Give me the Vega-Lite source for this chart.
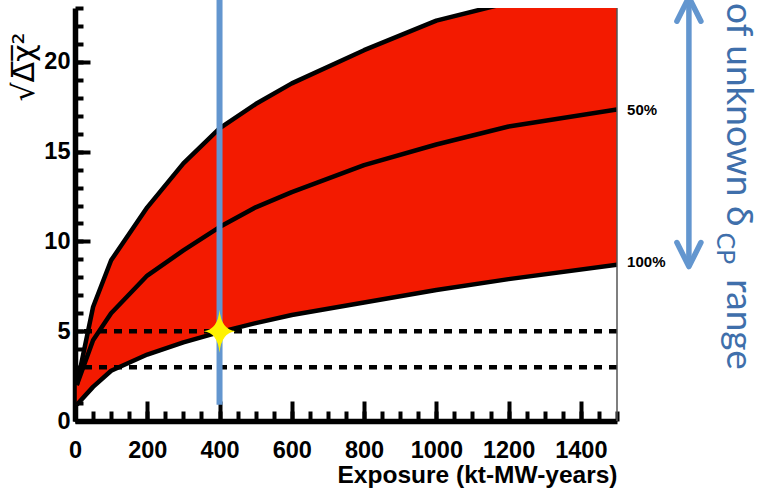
{
  "$schema": "https://vega.github.io/schema/vega-lite/v6.json",
  "width": 542,
  "height": 413,
  "autosize": {"type": "none"},
  "padding": {"left": 75, "top": 8, "right": 147, "bottom": 72},
  "background": "white",
  "config": {
    "view": {"stroke": null},
    "axis": {
      "grid": false,
      "labelFont": "Liberation Sans",
      "titleFont": "Liberation Sans",
      "domainColor": "black",
      "tickColor": "black",
      "labelColor": "black",
      "titleColor": "black"
    }
  },
  "datasets": {
    "curves": [
      {"exposure": 5, "upper": 2.0, "middle": 2.0, "lower": 0.9},
      {"exposure": 50, "upper": 6.35, "middle": 4.5, "lower": 1.9},
      {"exposure": 100, "upper": 8.95, "middle": 6.0, "lower": 2.8},
      {"exposure": 200, "upper": 11.9, "middle": 8.1, "lower": 3.7},
      {"exposure": 300, "upper": 14.35, "middle": 9.5, "lower": 4.38},
      {"exposure": 400, "upper": 16.3, "middle": 10.8, "lower": 4.95},
      {"exposure": 500, "upper": 17.65, "middle": 11.9, "lower": 5.45},
      {"exposure": 600, "upper": 18.8, "middle": 12.75, "lower": 5.9},
      {"exposure": 800, "upper": 20.65, "middle": 14.25, "lower": 6.6},
      {"exposure": 1000, "upper": 22.3, "middle": 15.4, "lower": 7.3},
      {"exposure": 1200, "upper": 23.3, "middle": 16.4, "lower": 7.9},
      {"exposure": 1500, "upper": 24.6, "middle": 17.35, "lower": 8.7}
    ]
  },
  "resolve": {"axis": {"x": "independent", "y": "independent"}},
  "layer": [
    {
      "description": "Band between the 0% and 100% curves, carries the labelled axes",
      "data": {"name": "curves"},
      "mark": {"type": "area", "color": "#f31a00", "clip": true},
      "encoding": {
        "x": {
          "field": "exposure", "type": "quantitative",
          "scale": {"domain": [0, 1500], "nice": false, "zero": false},
          "axis": {
            "orient": "bottom",
            "values": [0, 200, 400, 600, 800, 1000, 1200, 1400],
            "format": "d",
            "tickSize": -20, "tickWidth": 4, "domainWidth": 5.5,
            "labelFontSize": 23.5, "labelFontWeight": "bold", "labelPadding": 37,
            "labelFlush": false, "labelOverlap": false,
            "title": "Exposure (kt-MW-years)",
            "titleFontSize": 24.5, "titleFontWeight": "bold",
            "titleAnchor": "end", "titlePadding": 2
          }
        },
        "y": {
          "field": "lower", "type": "quantitative",
          "scale": {"domain": [0, 23], "nice": false, "zero": false},
          "axis": {
            "orient": "left",
            "values": [0, 5, 10, 15, 20],
            "tickSize": -15, "tickWidth": 4, "domainWidth": 5.5,
            "labelFontSize": 23.5, "labelFontWeight": "bold", "labelPadding": 20,
            "labelFlush": false, "labelOverlap": false,
            "title": "√Δ̅χ̅²",
            "titleFont": "DejaVu Sans", "titleFontSize": 30, "titleFontWeight": "normal",
            "titleAngle": -90, "titleAlign": "left", "titleBaseline": "middle",
            "titleX": -51, "titleY": 93
          }
        },
        "y2": {"field": "upper"}
      }
    },
    {
      "description": "Reference levels at 5 and 3 sigma",
      "data": {"values": [{"level": 5}, {"level": 3}]},
      "mark": {"type": "rule", "color": "black", "strokeWidth": 4.5, "strokeDash": [8, 7]},
      "encoding": {
        "y": {"field": "level", "type": "quantitative", "scale": {"domain": [0, 23], "nice": false, "zero": false}, "axis": null}
      }
    },
    {
      "description": "Sensitivity curves, carries the minor-tick axes",
      "data": {"name": "curves"},
      "transform": [{"fold": ["upper", "middle", "lower"], "as": ["curve", "v"]}],
      "mark": {"type": "line", "color": "black", "strokeWidth": 4.5, "strokeJoin": "round", "clip": true},
      "encoding": {
        "x": {
          "field": "exposure", "type": "quantitative",
          "scale": {"domain": [0, 1500], "nice": false, "zero": false},
          "axis": {
            "orient": "bottom",
            "values": [0, 50, 100, 150, 200, 250, 300, 350, 400, 450, 500, 550, 600, 650, 700, 750, 800, 850, 900, 950, 1000, 1050, 1100, 1150, 1200, 1250, 1300, 1350, 1400, 1450, 1500],
            "tickSize": -10, "tickWidth": 4, "labels": false, "domain": false, "title": null
          }
        },
        "y": {
          "field": "v", "type": "quantitative",
          "scale": {"domain": [0, 23], "nice": false, "zero": false},
          "axis": {
            "orient": "left",
            "values": [0, 1, 2, 3, 4, 5, 6, 7, 8, 9, 10, 11, 12, 13, 14, 15, 16, 17, 18, 19, 20, 21, 22, 23],
            "tickSize": -8, "tickWidth": 4, "labels": false, "domain": false, "title": null
          }
        },
        "detail": {"field": "curve"}
      }
    },
    {
      "description": "Right frame edge",
      "data": {"values": [{"exposure": 1500, "from": 0, "to": 23}]},
      "mark": {"type": "rule", "color": "#555555", "strokeWidth": 1.5},
      "encoding": {
        "x": {"field": "exposure", "type": "quantitative", "scale": {"domain": [0, 1500], "nice": false, "zero": false}, "axis": null},
        "y": {"field": "from", "type": "quantitative", "scale": {"domain": [0, 23], "nice": false, "zero": false}, "axis": null},
        "y2": {"field": "to"}
      }
    },
    {
      "description": "Exposure marker at 400 kt-MW-years",
      "data": {"values": [{"exposure": 400, "from": 0.9, "to": 23.6}]},
      "mark": {"type": "rule", "color": "#6396cf", "strokeWidth": 6, "clip": false},
      "encoding": {
        "x": {"field": "exposure", "type": "quantitative", "scale": {"domain": [0, 1500], "nice": false, "zero": false}, "axis": null},
        "y": {"field": "from", "type": "quantitative", "scale": {"domain": [0, 23], "nice": false, "zero": false}, "axis": null},
        "y2": {"field": "to"}
      }
    },
    {
      "description": "Star where the 100% curve crosses 5 sigma",
      "data": {"values": [{"exposure": 400, "sigma": 5}]},
      "mark": {
        "type": "point", "filled": true, "opacity": 1, "color": "#fff200", "size": 1849,
        "shape": "M0,-1Q0.08,-0.08 0.74,0Q0.08,0.08 0,1Q-0.08,0.08 -0.74,0Q-0.08,-0.08 0,-1Z"
      },
      "encoding": {
        "x": {"field": "exposure", "type": "quantitative", "scale": {"domain": [0, 1500], "nice": false, "zero": false}, "axis": null},
        "y": {"field": "sigma", "type": "quantitative", "scale": {"domain": [0, 23], "nice": false, "zero": false}, "axis": null}
      }
    },
    {
      "description": "Curve labels",
      "data": {"values": [{"exposure": 1528, "sigma": 17.32, "label": "50%"}, {"exposure": 1528, "sigma": 8.85, "label": "100%"}]},
      "mark": {"type": "text", "font": "Liberation Sans", "fontWeight": "bold", "fontSize": 15, "align": "left", "baseline": "middle", "color": "black"},
      "encoding": {
        "x": {"field": "exposure", "type": "quantitative", "scale": {"domain": [0, 1500], "nice": false, "zero": false}, "axis": null},
        "y": {"field": "sigma", "type": "quantitative", "scale": {"domain": [0, 23], "nice": false, "zero": false}, "axis": null},
        "text": {"field": "label"}
      }
    },
    {
      "description": "Range arrow shaft",
      "data": {"values": [{"exposure": 1699, "from": 8.6, "to": 23.6}]},
      "mark": {"type": "rule", "color": "#6396cf", "strokeWidth": 5.5, "clip": false},
      "encoding": {
        "x": {"field": "exposure", "type": "quantitative", "scale": {"domain": [0, 1500], "nice": false, "zero": false}, "axis": null},
        "y": {"field": "from", "type": "quantitative", "scale": {"domain": [0, 23], "nice": false, "zero": false}, "axis": null},
        "y2": {"field": "to"}
      }
    },
    {
      "description": "Lower arrow head",
      "data": {"values": [{"exposure": 1699, "sigma": 8.6}]},
      "mark": {"type": "point", "filled": false, "opacity": 1, "color": "#6396cf", "strokeWidth": 5.5, "strokeCap": "round", "strokeJoin": "round", "size": 576, "shape": "M-1,-2L0,0L1,-2"},
      "encoding": {
        "x": {"field": "exposure", "type": "quantitative", "scale": {"domain": [0, 1500], "nice": false, "zero": false}, "axis": null},
        "y": {"field": "sigma", "type": "quantitative", "scale": {"domain": [0, 23], "nice": false, "zero": false}, "axis": null}
      }
    },
    {
      "description": "Upper arrow head",
      "data": {"values": [{"exposure": 1699, "sigma": 23.6}]},
      "mark": {"type": "point", "filled": false, "opacity": 1, "color": "#6396cf", "strokeWidth": 5.5, "strokeCap": "round", "strokeJoin": "round", "size": 576, "shape": "M-1,2L0,0L1,2"},
      "encoding": {
        "x": {"field": "exposure", "type": "quantitative", "scale": {"domain": [0, 1500], "nice": false, "zero": false}, "axis": null},
        "y": {"field": "sigma", "type": "quantitative", "scale": {"domain": [0, 23], "nice": false, "zero": false}, "axis": null}
      }
    },
    {
      "description": "Vertical annotation text",
      "data": {"values": [{"exposure": 1804, "sigma": 23.28, "note": "of unknown δ"}, {"exposure": 1804, "sigma": 7.9, "note": "range"}]},
      "mark": {"type": "text", "font": "Lato", "fontSize": 37, "angle": 90, "align": "left", "baseline": "alphabetic", "color": "#3f6fab"},
      "encoding": {
        "x": {"field": "exposure", "type": "quantitative", "scale": {"domain": [0, 1500], "nice": false, "zero": false}, "axis": null},
        "y": {"field": "sigma", "type": "quantitative", "scale": {"domain": [0, 23], "nice": false, "zero": false}, "axis": null},
        "text": {"field": "note"}
      }
    },
    {
      "description": "Subscript of delta",
      "data": {"values": [{"exposure": 1777, "sigma": 10.5, "note": "CP"}]},
      "mark": {"type": "text", "font": "Lato", "fontSize": 25, "angle": 90, "align": "left", "baseline": "alphabetic", "color": "#3f6fab"},
      "encoding": {
        "x": {"field": "exposure", "type": "quantitative", "scale": {"domain": [0, 1500], "nice": false, "zero": false}, "axis": null},
        "y": {"field": "sigma", "type": "quantitative", "scale": {"domain": [0, 23], "nice": false, "zero": false}, "axis": null},
        "text": {"field": "note"}
      }
    }
  ]
}
